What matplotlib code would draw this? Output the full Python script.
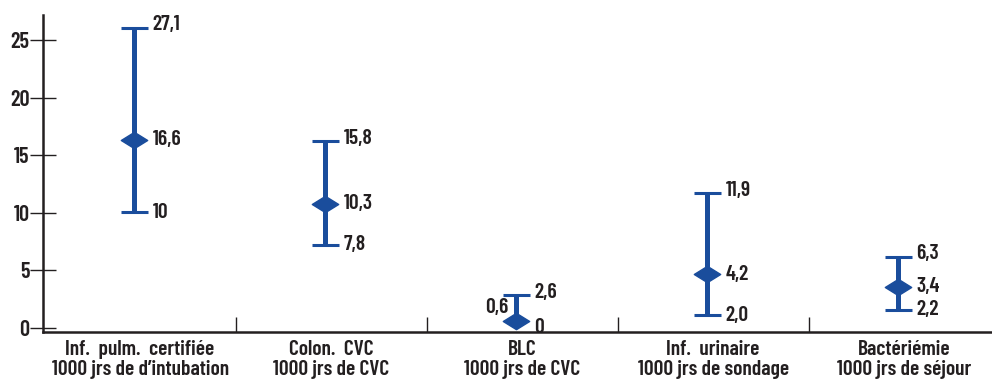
import matplotlib
matplotlib.use("Agg")
import matplotlib.pyplot as plt
from matplotlib.path import Path
import numpy as np

categories = ["Inf.  pulm.  certifiée\n1000 jrs de d\u2019intubation",
              "Colon.  CVC\n1000 jrs de CVC",
              "BLC\n1000 jrs de CVC",
              "Inf.  urinaire\n1000 jrs de sondage",
              "Bactériémie\n1000 jrs de séjour"]
mid_vals = [16.35, 10.8, 0.55, 4.65, 3.57]
low_vals = [10.05, 7.2, 0.0, 1.1, 1.54]
high_vals = [26.1, 16.25, 2.85, 11.7, 6.18]
low_caps = [True, True, False, True, True]
mid_labels = ["16,6", "10,3", "0,6", "4,2", "3,4"]
low_labels = ["10", "7,8", "0", "2,0", "2,2"]
high_labels = ["27,1", "15,8", "2,6", "11,9", "6,3"]

blue = "#1a4d9c"
dark = "#231f20"
font = ["Barlow Condensed", "DejaVu Sans"]
plt.rcParams['font.family'] = font

fig = plt.figure(figsize=(9.92, 3.85), dpi=100)
ax = fig.add_axes([0.043, 0.1385, 0.957, 0.8225])
x = np.arange(len(categories)) - 0.03
ax.set_xlim(-0.51, 4.46)
ax.set_ylim(-0.35, 27.2)

hw = 0.07
ax.vlines(x, low_vals, high_vals, color=blue, lw=3.6, zorder=3)
ax.hlines(high_vals, x - hw, x + hw, color=blue, lw=2.2, zorder=3)
lc = [i for i, f in enumerate(low_caps) if f]
ax.hlines([low_vals[i] for i in lc], x[lc] - hw, x[lc] + hw, color=blue, lw=2.2, zorder=3)
diamond = Path([(-1, 0), (0, 0.62), (1, 0), (0, -0.62), (-1, 0)],
               [Path.MOVETO, Path.LINETO, Path.LINETO, Path.LINETO, Path.CLOSEPOLY])
ax.plot(x, mid_vals, linestyle='none', marker=diamond, markersize=19, color=blue, zorder=4)

kw = dict(fontsize=15.5, fontweight=600, color=dark, textcoords='offset points', va='center')
for i in range(len(categories)):
    ax.annotate(high_labels[i], (x[i], high_vals[i]), xytext=(13, 2), ha='left', **kw)
    ax.annotate(low_labels[i], (x[i], low_vals[i]), xytext=(13, 0), ha='left', **kw)
    if i == 2:
        ax.annotate(mid_labels[i], (x[i], mid_vals[i]), xytext=(-6, 10), ha='right', **kw)
    else:
        ax.annotate(mid_labels[i], (x[i], mid_vals[i]), xytext=(13, 0), ha='left', **kw)

for s in ['top', 'right']:
    ax.spines[s].set_visible(False)
for s in ['left', 'bottom']:
    ax.spines[s].set_color(dark)
    ax.spines[s].set_linewidth(1.8)

ax.set_yticks([0, 5, 10, 15, 20, 25])
ax.tick_params(axis='y', direction='inout', length=19, width=1.0, colors=dark,
               labelsize=16, pad=0)
for t in ax.get_yticklabels():
    t.set_fontweight(600)
ax.set_xticks(np.arange(len(categories)))
ax.set_xticklabels(categories, fontsize=15.5, fontweight=600, color=dark, linespacing=1.05)
ax.tick_params(axis='x', length=0, pad=6)
ax.set_xticks(np.arange(len(categories) - 1) + 0.5, minor=True)
ax.tick_params(axis='x', which='minor', direction='in', length=11, width=1.0, colors=dark)

fig.savefig("out.png", dpi=100)
